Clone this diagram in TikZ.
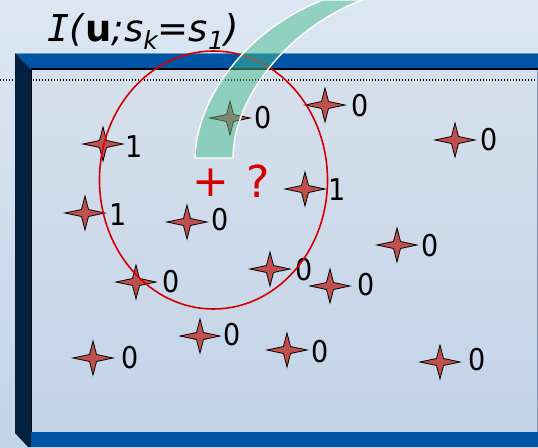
\documentclass[tikz,border=0pt]{standalone}
\usepackage{fontspec}
\setmainfont{DejaVu Sans}
\newfontfamily\digf{DejaVu Sans}[FakeStretch=0.9]
\newfontfamily\monof{DejaVu Sans Mono}
\usetikzlibrary{calc,shapes.geometric}
\definecolor{bgtop}{HTML}{DDE7F3}
\definecolor{bgbot}{HTML}{C3D3E8}
\definecolor{barblue}{HTML}{0054A6}
\definecolor{navy}{HTML}{00213F}
\definecolor{starred}{HTML}{C0504D}
\definecolor{ringred}{HTML}{D40000}
\definecolor{bandteal}{RGB}{73,190,143}
\definecolor{panelline}{HTML}{8096B3}
\tikzset{
  starline/.style={draw=black,line width=0.8pt,fill=starred,line join=miter},
  digit/.style={inner sep=0pt,font=\digf\fontsize{30}{32}\selectfont,text=black},
  bigred/.style={inner sep=0pt,font=\fontsize{44}{48}\selectfont,text=ringred},
  sparkle/.pic={\path[starline] (20,0) -- (3.5,3.5) -- (0,17) -- (-3.5,3.5) -- (-20,0) -- (-3.5,-3.5) -- (0,-17) -- (3.5,-3.5) -- cycle;}
}
\begin{document}
\begin{tikzpicture}[x=1pt,y=-1pt]
\useasboundingbox (0,0) rectangle (538,447);
% background
\shade[top color=bgtop,bottom color=bgbot] (0,0) rectangle (538,447);
% panel
\shade[top color=bgtop!97!black,bottom color=bgbot] (31,69) rectangle (537,432);
\draw[panelline,line width=0.8pt] (537,69) -- (537,432) -- (31,432);
% dotted line
\draw[black,line width=1.2pt,dash pattern=on 1.3pt off 1.7pt] (0,80) -- (536,80);
% frame
\fill[barblue] (15,53) -- (538,53) -- (538,69) -- (31,69) -- cycle;
\draw[barblue!60!white,line width=0.8pt] (15,53.4) -- (538,53.4);
\draw[black,line width=1.5pt] (31,69) -- (538,69);
\fill[barblue] (31,432) rectangle (538,447);
\fill[navy] (15,53) -- (31,69) -- (31,447) -- (28,447) -- (15,433) -- cycle;
\draw[black,line width=1.5pt] (31.5,69) -- (31.5,432);
% stars and labels
\foreach \sx/\sy/\lx/\ly/\t [count=\i] in {103/144/134/147/1, 85/213/118/215/1, 187/222/220/220/0, 230/118/263/118/0, 325/105/360/106/0, 455/140/489/140/0, 305/189/337/190/1, 397/245/430/246/0, 136/282/171/282/0, 270/269/304/270/0, 330/286/366/285/0, 200/336/232/335/0, 287/350/320/352/0, 93/358/130/358/0, 440/362/477/360/0}{
  \pic (s\i) at (\sx,\sy) {sparkle};
  \node[digit] (d\i) at (\lx,\ly) {\t};
}
% red ring
\node[draw=ringred,line width=1.6pt,ellipse,minimum width=228pt,minimum height=258pt,inner sep=0pt] (ring) at (213.5,180) {};
\node[bigred] (plus) at (211,183) {+};
\node[bigred] (qmark) at (258,181) {?};
% teal band
\path[fill=bandteal,fill opacity=0.5,draw=white,line width=1.4pt]
  (195,158) .. controls (196,100) and (245,30) .. (323,0)
  -- (362,0) .. controls (285,30) and (233,100) .. (233,158) -- cycle;
% title
\node[anchor=base west,inner sep=0pt,font=\fontsize{37}{42}\selectfont] (title) at (47,41)
  {{\monof\itshape I}{\itshape (}\textbf{u}{\itshape ;s}\raisebox{-9pt}{\fontsize{25}{25}\selectfont\itshape k}={\itshape s}\raisebox{-9pt}{\fontsize{25}{25}\selectfont\itshape 1}{\itshape )}};
\end{tikzpicture}
\end{document}
